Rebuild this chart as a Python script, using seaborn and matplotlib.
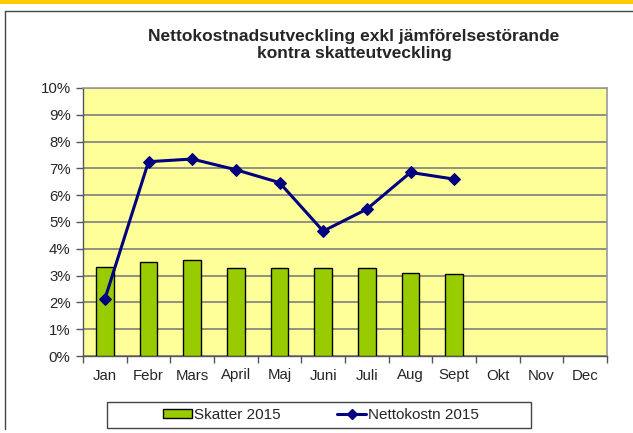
import numpy as np
import pandas as pd
import matplotlib
matplotlib.use("Agg")
import matplotlib.pyplot as plt
import seaborn as sns
from matplotlib.lines import Line2D
from matplotlib.patches import Patch, Rectangle
from matplotlib.ticker import FixedLocator, FuncFormatter

# --- data ---
manader = ["Jan", "Febr", "Mars", "April", "Maj", "Juni", "Juli", "Aug", "Sept", "Okt", "Nov", "Dec"]
skatter_2015 = [3.32, 3.51, 3.58, 3.28, 3.28, 3.28, 3.28, 3.10, 3.06, np.nan, np.nan, np.nan]
nettokostn_2015 = [2.12, 7.25, 7.35, 6.95, 6.47, 4.66, 5.48, 6.85, 6.60, np.nan, np.nan, np.nan]

df = pd.DataFrame({"Manad": manader, "pos": range(len(manader)),
                   "Skatter": skatter_2015, "Netto": nettokostn_2015})

sns.set_style("white")
plt.rcParams["font.family"] = ["Liberation Sans", "DejaVu Sans"]

fig = plt.figure(figsize=(6.33, 4.33), dpi=100)
ax = fig.add_axes([83 / 633, 1 - 356 / 433, (607 - 83) / 633, (356 - 88) / 433])
ax.set_facecolor("#FFFF99")

sns.barplot(data=df, x="Manad", y="Skatter", order=manader, color="#99CC00",
            edgecolor="black", linewidth=1, width=0.4, saturation=1, ax=ax, zorder=3)
sns.lineplot(data=df.dropna(), x="pos", y="Netto", color="#000080", linewidth=2.2,
             marker="D", markersize=6.5, markeredgecolor="#000080", ax=ax, zorder=4)

ax.set_xlim(-0.5, 11.5)
ax.set_ylim(0, 10)
ax.set_xlabel("")
ax.set_ylabel("")

# gridlines
ax.yaxis.set_major_locator(FixedLocator(np.arange(0, 11, 1)))
ax.yaxis.set_major_formatter(FuncFormatter(lambda v, p: f"{int(v)}%"))
ax.grid(axis="y", color="#7F7F7F", linewidth=1.2, zorder=1)
ax.set_axisbelow(True)

# x ticks between categories
ax.set_xticks(range(12))
ax.set_xticklabels(manader)
ax.xaxis.set_minor_locator(FixedLocator(np.arange(-0.5, 12, 1)))
ax.tick_params(axis="x", which="major", length=0, pad=9, labelsize=10.8)
ax.tick_params(axis="x", which="minor", length=5, width=1, color="#555555", bottom=True)
ax.tick_params(axis="y", length=5, width=1, color="#555555", left=True, labelsize=10.8, pad=4)

for side in ["left", "bottom"]:
    ax.spines[side].set_color("#555555")
    ax.spines[side].set_linewidth(1)
for side in ["top", "right"]:
    ax.spines[side].set_color("#999999")
    ax.spines[side].set_linewidth(1.2)

fig.text(354 / 633, 1 - 45 / 433,
         "Nettokostnadsutveckling exkl jämförelsestörande\nkontra skatteutveckling",
         ha="center", va="center", fontsize=12.5, fontweight="bold", linespacing=1.12)

# legend (Excel style box drawn separately)
handles = [Patch(facecolor="#99CC00", edgecolor="black", label="Skatter 2015"),
           Line2D([0], [0], color="#000080", linewidth=2.2, marker="D", markersize=5,
                  label="Nettokostn 2015")]
fig.legend(handles=handles, loc="center", bbox_to_anchor=(321 / 633, 1 - 415 / 433),
           ncol=2, frameon=False, fontsize=11, handlelength=1.9, handleheight=0.6,
           handletextpad=0.15, columnspacing=3.7)
fig.add_artist(Rectangle((107 / 633, 1 - 428 / 433), (531 - 107) / 633, 26 / 433,
                         transform=fig.transFigure, facecolor="none",
                         edgecolor="#444444", linewidth=1))

# outer chart border and top stripe
fig.add_artist(Rectangle((0, 1 - 4 / 433), 1, 4 / 433, transform=fig.transFigure,
                         facecolor="#FFCC00", edgecolor="none"))
fig.add_artist(Line2D([5 / 633, 5 / 633], [1 - 429 / 433, 1 - 11 / 433],
                      transform=fig.transFigure, color="#444444", linewidth=1))
fig.add_artist(Line2D([5 / 633, 1], [1 - 11 / 433, 1 - 11 / 433],
                      transform=fig.transFigure, color="#444444", linewidth=1))

fig.savefig("out.png", dpi=100)
